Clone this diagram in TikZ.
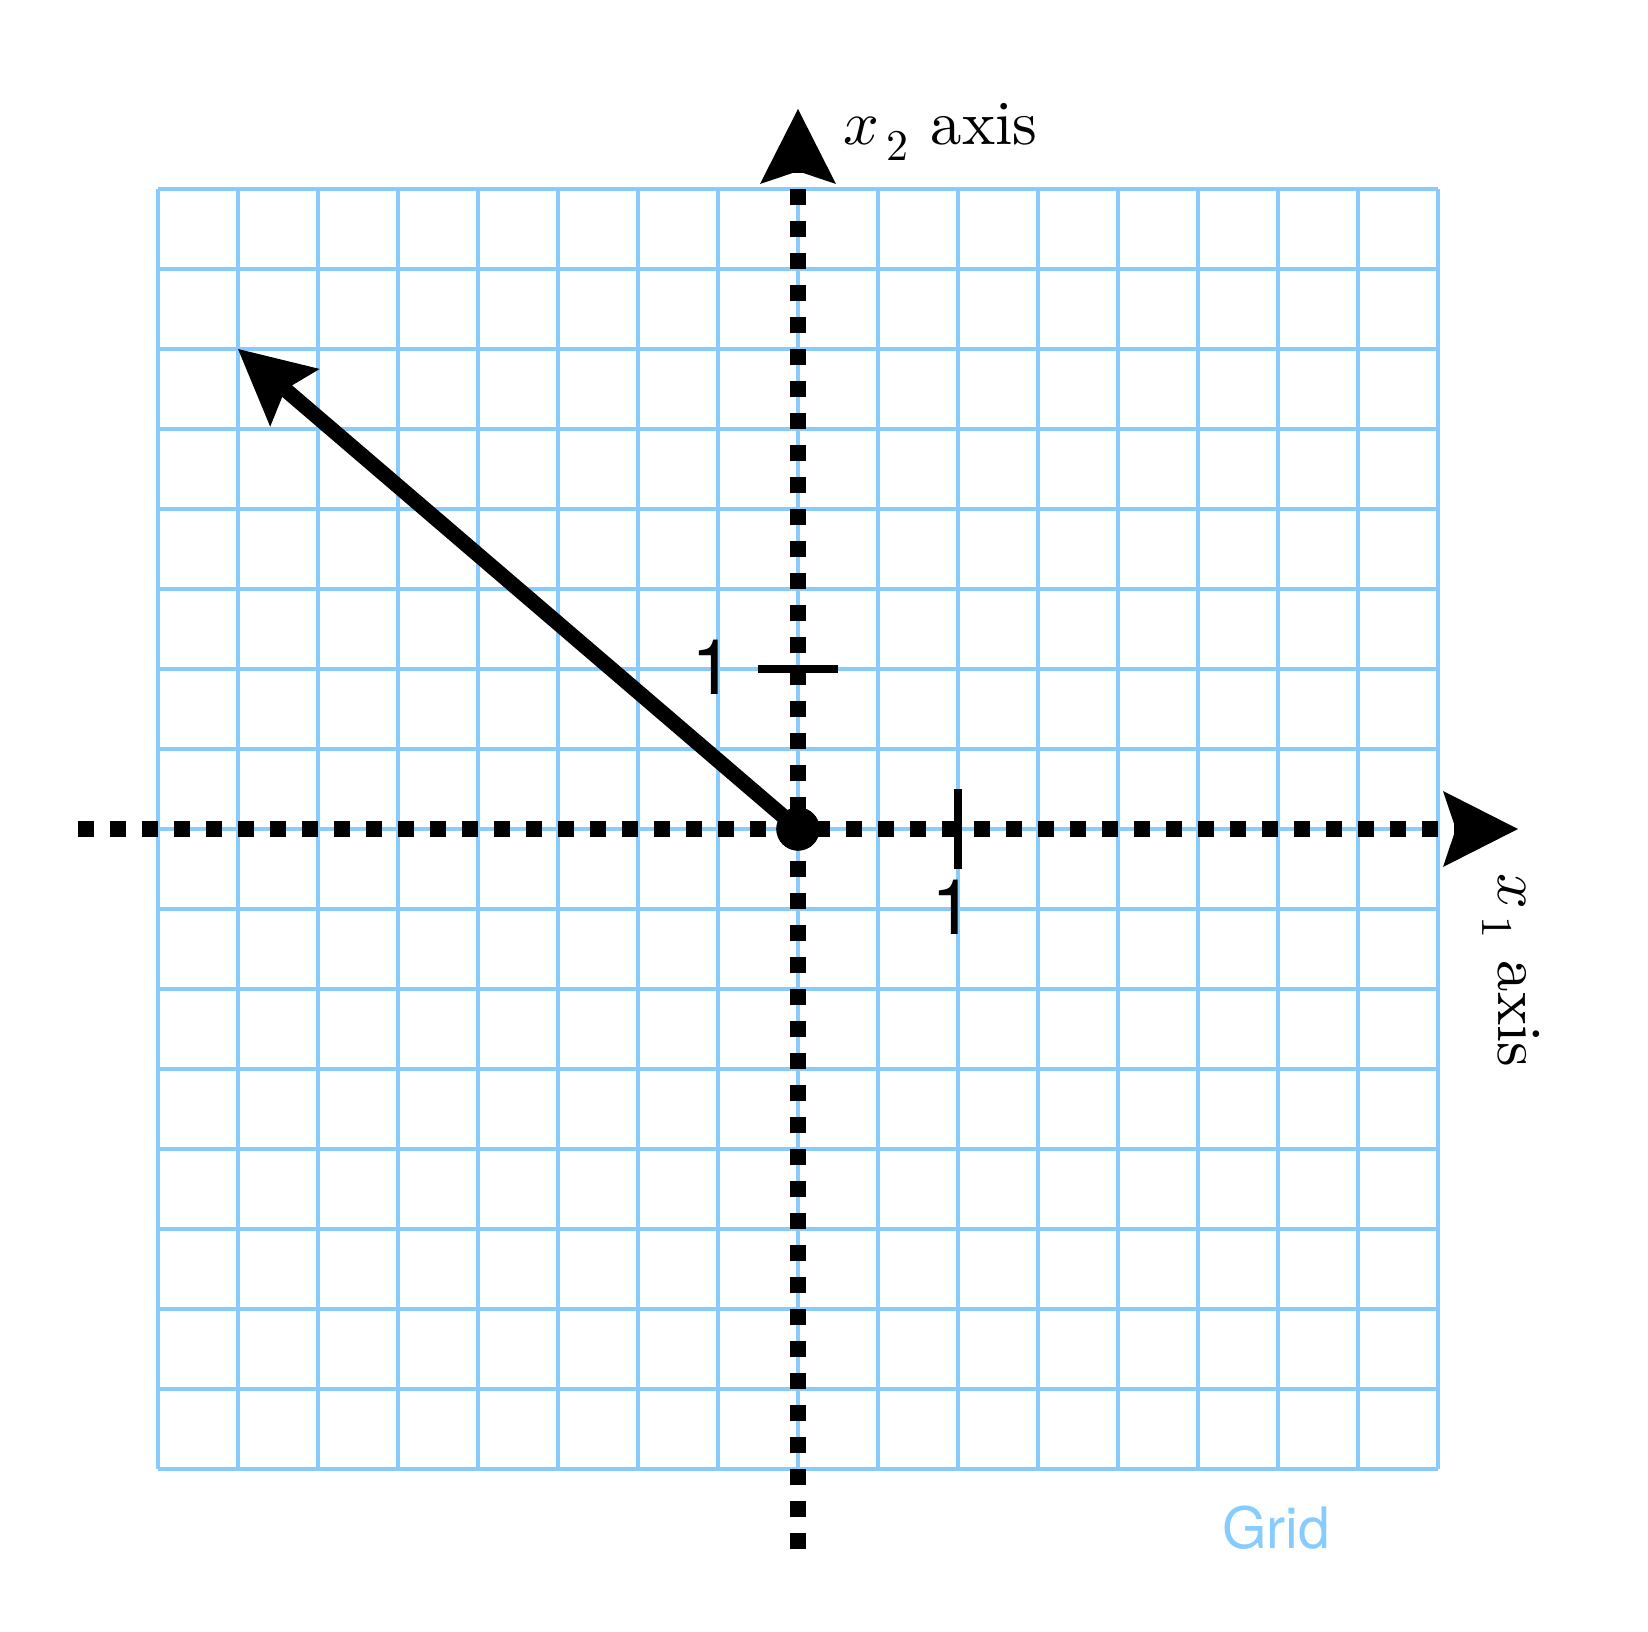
\documentclass[tikz,border=0pt]{standalone}
\usepackage{fontspec}
\usepackage{unicode-math}
\setmathfont{Latin Modern Math}
\newfontfamily\labelfont{TeX Gyre Heros}
\newfontfamily\lmten{lmroman10-regular.otf}
\usetikzlibrary{arrows.meta}
\definecolor{gridblue}{RGB}{136,204,255}
\tikzset{
  bigtip/.style={-{Stealth[length=0.9375cm,width=0.95cm,inset=0.16cm,line width=0pt]}},
  axisline/.style={line width=0.2cm, dash pattern=on 0.2cm off 0.2cm, bigtip},
  vecline/.style={line width=0.19cm, bigtip},
  tickline/.style={line width=0.1cm},
  gridlines/.style={gridblue, line width=0.05cm},
  numlabel/.style={font=\labelfont\fontsize{27.3}{30}\selectfont, inner sep=0pt},
  axislabel/.style={font=\lmten\fontsize{22.3}{26}\selectfont, inner sep=0pt, anchor=base west},
}
\begin{document}
\begin{tikzpicture}[x=1cm,y=1cm]
\useasboundingbox (-9.975,-10.0375) rectangle (10.625,10.3625);
% grid
\draw[gridlines] (-8,-8) grid (8,8);
% axes
\coordinate (xstart) at (-9,0);
\coordinate (xend) at (9,0);
\coordinate (ystart) at (0,-9);
\coordinate (yend) at (0,9);
\draw[axisline] (xstart) -- (xend);
\draw[axisline] (ystart) -- (yend);
% ticks
\coordinate (xt1) at (2,-0.5);
\coordinate (xt2) at (2,0.5);
\coordinate (yt1) at (-0.5,2);
\coordinate (yt2) at (0.5,2);
\draw[tickline] (xt1) -- (xt2);
\draw[tickline] (yt1) -- (yt2);
% vector
\coordinate (vtip) at (-7,6);
\node[circle, fill=black, minimum size=0.54cm, inner sep=0pt] (origin) at (0,0) {};
\draw[vecline] (origin.center) -- (vtip);
\fill (origin.center) circle (0.27cm);
% labels
\node[numlabel] (ylabel) at (-1.06,2.025) {1};
\node[numlabel] (xlabel) at (1.93,-0.975) {1};
\node[font=\labelfont\fontsize{20.3}{24}\selectfont, text=gridblue, inner sep=0pt] (gridlabel) at (5.975,-8.73) {Grid};
\node[axislabel] (x2label) at (0.56,8.55) {$x_{\,2}$ axis};
\node[axislabel, rotate=-90] (x1label) at (8.75,-0.55) {$x_{\,1}$ axis};
\end{tikzpicture}
\end{document}
